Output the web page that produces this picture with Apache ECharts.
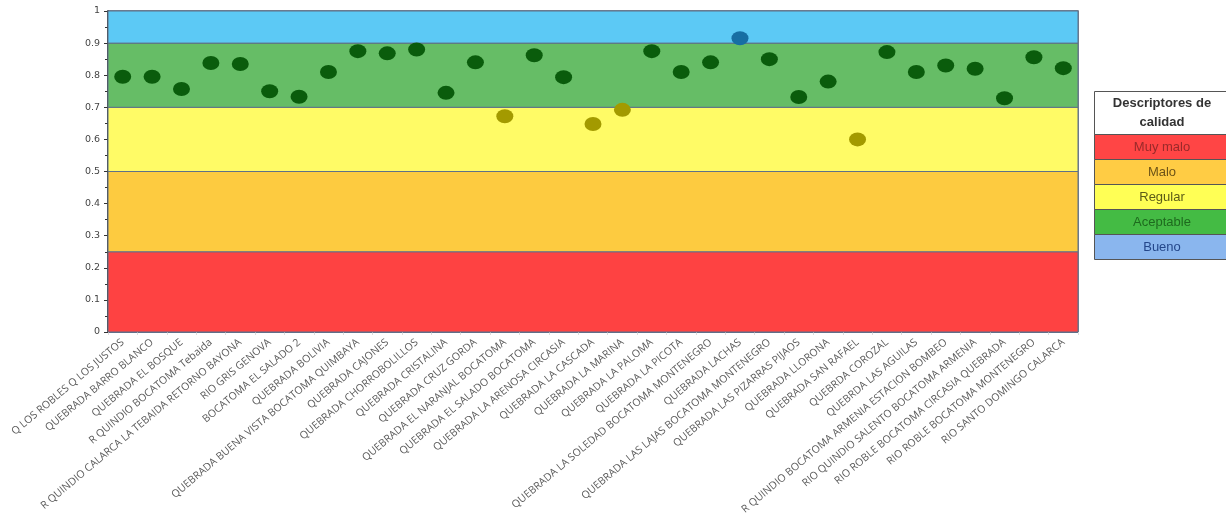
<!DOCTYPE html>
<html>
<head>
<meta charset="utf-8">
<script src="https://cdn.jsdelivr.net/npm/echarts@6/dist/echarts.min.js"></script>
<style>html,body{margin:0;padding:0;background:#fff}#c{width:1226px;height:518px}</style>
</head>
<body>
<div id="c"></div>
<script>
const categories = [
  "Q LOS ROBLES Q LOS JUSTOS","QUEBRADA BARRO BLANCO","QUEBRADA EL BOSQUE","R QUINDIO BOCATOMA Tebaida",
  "R QUINDIO CALARCA LA TEBAIDA RETORNO BAYONA","RIO GRIS GENOVA","BOCATOMA EL SALADO 2","QUEBRADA BOLIVIA",
  "QUEBRADA BUENA VISTA BOCATOMA QUIMBAYA","QUEBRADA CAJONES","QUEBRADA CHORROBOLILLOS","QUEBRADA CRISTALINA",
  "QUEBRADA CRUZ GORDA","QUEBRADA EL NARANJAL BOCATOMA","QUEBRADA EL SALADO BOCATOMA","QUEBRADA LA ARENOSA CIRCASIA",
  "QUEBRADA LA CASCADA","QUEBRADA LA MARINA","QUEBRADA LA PALOMA","QUEBRADA LA PICOTA",
  "QUEBRADA LA SOLEDAD BOCATOMA MONTENEGRO","QUEBRADA LACHAS","QUEBRADA LAS LAJAS BOCATOMA MONTENEGRO","QUEBRADA LAS PIZARRAS PIJAOS",
  "QUEBRADA LLORONA","QUEBRADA SAN RAFAEL","QUEBRDA COROZAL","QUEBRDA LAS AGUILAS",
  "R QUINDIO BOCATOMA ARMENIA ESTACION BOMBEO","RIO QUINDIO SALENTO BOCATOMA ARMENIA","RIO ROBLE BOCATOMA CIRCASIA QUEBRADA","RIO ROBLE BOCATOMA MONTENEGRO",
  "RIO SANTO DOMINGO CALARCA"
];
const values = [
  0.795,0.795,0.757,0.838,0.835,0.75,0.733,0.81,
  0.875,0.868,0.88,0.745,0.84,0.672,0.862,0.794,
  0.648,0.692,0.875,0.81,0.84,0.915,0.85,0.732,
  0.78,0.60,0.872,0.81,0.83,0.82,0.728,0.856,
  0.822
];
const bandNames = ["Muy malo","Malo","Regular","Aceptable","Bueno"];
const bandLimits = [0, 0.25, 0.5, 0.7, 0.9, 1];
const bandColors = ["#fe4242","#fdcb40","#fffb66","#66bd66","#5cc9f5"];
const dotColors = ["#8a0000","#8a6a00","#a39a00","#0a5c0c","#176ea3"];
const legendColors = ["#ff4545","#ffcc44","#ffff55","#44bb44","#8ab6ee"];
const legendTextColors = ["#9a2a2a","#6e5418","#5c5c18","#1e6a1e","#24478a"];

function bandIndex(v){
  for (let i = bandLimits.length - 2; i >= 0; i--) if (v >= bandLimits[i]) return i;
  return 0;
}

const markAreaData = bandNames.map((n, i) => [
  {yAxis: bandLimits[i], itemStyle: {color: bandColors[i], borderColor: '#5f7088', borderWidth: 1}},
  {yAxis: bandLimits[i + 1]}
]);

const gx = 1094, gy = 91, hw = 132, hh = 43, rh = 25;
const graphics = [
  {type:'rect', shape:{x:gx+0.5, y:gy+0.5, width:hw, height:hh}, style:{fill:'#fff', stroke:'#555', lineWidth:1}},
  {type:'text', style:{x:gx+hw/2+2, y:gy+12, text:'Descriptores de', textAlign:'center', textVerticalAlign:'middle', font:'bold 13px "Liberation Sans", Arial', fill:'#333'}},
  {type:'text', style:{x:gx+hw/2+2, y:gy+31, text:'calidad', textAlign:'center', textVerticalAlign:'middle', font:'bold 13px "Liberation Sans", Arial', fill:'#333'}}
];
bandNames.forEach((n, i) => {
  const y = gy + hh + i * rh;
  graphics.push({type:'rect', shape:{x:gx+0.5, y:y+0.5, width:hw, height:rh}, style:{fill:legendColors[i], stroke:'#555', lineWidth:1}});
  graphics.push({type:'text', style:{x:gx+hw/2+2, y:y+rh/2+1, text:n, textAlign:'center', textVerticalAlign:'middle', font:'13px "Liberation Sans", Arial', fill:legendTextColors[i]}});
});

const chart = echarts.init(document.getElementById('c'), null, {renderer:'canvas'});
chart.setOption({
  animation: false,
  backgroundColor: '#fff',
  grid: {left: 108, right: 148, top: 11, bottom: 186, show: true, borderColor: '#4d5b70', borderWidth: 1.5, backgroundColor: 'transparent'},
  xAxis: {
    type: 'category', data: categories, boundaryGap: true,
    axisLine: {show: true, lineStyle: {color: '#5a6a88', width: 1.5}},
    axisTick: {show: true, alignWithLabel: false, length: 3, lineStyle: {color: '#ddd'}},
    axisLabel: {interval: 0, rotate: 40, fontSize: 10.5, color: '#5a5a5a', fontFamily: '"Open Sans", sans-serif', margin: 9}
  },
  yAxis: {
    type: 'value', min: 0, max: 1, interval: 0.1,
    axisLine: {show: true, lineStyle: {color: '#333', width: 1.5}},
    axisTick: {show: true, length: 4, lineStyle: {color: '#333'}},
    minorTick: {show: true, splitNumber: 2, length: 3, lineStyle: {color: '#333'}},
    splitLine: {show: false},
    axisLabel: {fontSize: 9.5, color: '#444', fontFamily: '"DejaVu Sans", sans-serif', margin: 8}
  },
  graphic: graphics,
  series: [{
    type: 'scatter',
    data: values,
    symbol: 'circle',
    symbolSize: [17, 14],
    z: 5,
    itemStyle: {color: p => dotColors[bandIndex(p.value)], opacity: 1},
    markArea: {silent: true, z: 1, data: markAreaData}
  }]
});
</script>
</body>
</html>
